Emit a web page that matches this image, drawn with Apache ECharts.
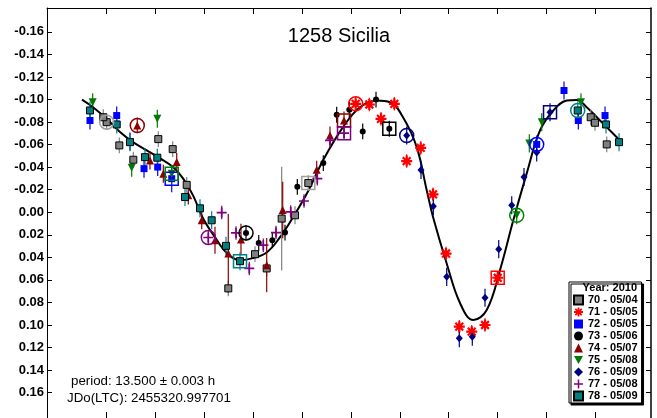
<!DOCTYPE html>
<html>
<head>
<meta charset="utf-8">
<script src="https://cdn.jsdelivr.net/npm/echarts@6/dist/echarts.min.js"></script>
<style>
  html, body { margin: 0; padding: 0; background: #fff; }
  #chart { width: 657px; height: 418px; }
</style>
</head>
<body>
<div id="chart"></div>
<script>
// Lightcurve of (1258) Sicilia, 2010 sessions, phased to P = 13.500 h.
// Each observation: [phase, delta magnitude, error]

const sessionNames = [
  '70 - 05/04', '71 - 05/05', '72 - 05/05', '73 - 05/06', '74 - 05/07',
  '75 - 05/08', '76 - 05/09', '77 - 05/08', '78 - 05/09'
];

const s70 = [
  [0.1000, -0.0799, 0.007], [0.0930, -0.0843, 0.007], [0.1258, -0.0593, 0.007],
  [0.1545, -0.0466, 0.007], [0.2056, -0.0649, 0.007], [0.2351, -0.0560, 0.007],
  [0.2638, -0.0243, 0.007], [0.3489, 0.0675, 0.007], [0.4036, 0.0372, 0.007],
  [0.4275, 0.0498, 0.007], [0.4582, 0.0056, 0.046], [0.4855, 0.0027, 0.008],
  [0.5127, -0.0259, 0.007], [1.0908, -0.0843, 0.007], [1.0996, -0.0794, 0.007],
  [1.1236, -0.0602, 0.007]
];
const s71 = [
  [0.6097, -0.0962, 0.006], [0.6376, -0.0956, 0.006], [0.6615, -0.0829, 0.006],
  [0.6888, -0.0962, 0.006], [0.7141, -0.0454, 0.006], [0.7428, -0.0571, 0.006],
  [0.7680, -0.0159, 0.006], [0.7946, 0.0366, 0.006], [0.8218, 0.1015, 0.006],
  [0.8472, 0.1059, 0.006], [0.8744, 0.1000, 0.006], [0.9004, 0.0581, 0.006]
];
const s72 = [
  [0.0658, -0.0814, 0.008], [0.1205, -0.0858, 0.008], [0.1477, -0.0628, 0.008],
  [0.1764, -0.0387, 0.008], [0.2044, -0.0401, 0.008], [0.2331, -0.0298, 0.012],
  [0.9802, -0.0602, 0.008], [1.0361, -0.1080, 0.008], [1.0654, -0.0814, 0.008],
  [1.1201, -0.0858, 0.008]
];
const s73 = [
  [0.3852, 0.0183, 0.007], [0.4112, 0.0272, 0.007], [0.4390, 0.0248, 0.007],
  [0.4650, 0.0180, 0.007], [0.4902, -0.0226, 0.007], [0.5434, -0.0436, 0.007],
  [0.5708, -0.0865, 0.007], [0.5966, -0.0909, 0.007], [0.6241, -0.0717, 0.007],
  [0.6513, -0.1000, 0.007], [0.6785, -0.0741, 0.007]
];
const s74 = [
  [0.1626, -0.0770, 0.007], [0.1886, -0.0460, 0.008], [0.2159, -0.0342, 0.008],
  [0.2433, -0.0445, 0.008], [0.2670, -0.0150, 0.008], [0.2945, 0.0071, 0.008],
  [0.3217, 0.0248, 0.012], [0.3489, 0.0365, 0.035], [0.3749, 0.0242, 0.014],
  [0.4275, 0.0469, 0.024], [0.4603, -0.0020, 0.025], [0.5299, -0.0378, 0.008],
  [0.5571, -0.0681, 0.008], [0.5858, -0.0814, 0.008]
];
const s75 = [
  [0.0713, -0.0976, 0.008], [0.1512, -0.0396, 0.008], [0.2036, -0.0829, 0.008],
  [0.2331, -0.0342, 0.008], [0.9393, 0.0027, 0.008], [0.9651, -0.0611, 0.008],
  [0.9905, -0.0799, 0.008], [1.0709, -0.0976, 0.008]
];
const s76 = [
  [0.7141, -0.0681, 0.008], [0.7434, -0.0376, 0.008], [0.7686, -0.0053, 0.008],
  [0.7960, 0.0573, 0.008], [0.8218, 0.1118, 0.008], [0.8484, 0.1104, 0.008],
  [0.8744, 0.0758, 0.008], [0.9025, 0.0327, 0.008], [0.9291, -0.0062, 0.008],
  [0.9542, -0.0312, 0.008], [0.9802, -0.0531, 0.008], [1.0075, -0.0888, 0.008]
];
const s77 = [
  [0.3080, 0.0224, 0.006], [0.3354, 0.0003, 0.006], [0.3647, 0.0183, 0.006],
  [0.3919, 0.0498, 0.006], [0.4206, 0.0292, 0.006], [0.4466, 0.0180, 0.006],
  [0.4767, -0.0003, 0.006], [0.5039, -0.0100, 0.006], [0.5311, -0.0298, 0.006],
  [0.5571, -0.0637, 0.006], [0.5858, -0.0702, 0.006]
];
const s78 = [
  [0.0658, -0.0903, 0.008], [0.1205, -0.0779, 0.008], [0.1477, -0.0622, 0.008],
  [0.1784, -0.0489, 0.008], [0.2036, -0.0484, 0.008], [0.2603, -0.0135, 0.008],
  [0.2910, -0.0035, 0.008], [0.3149, 0.0071, 0.008], [0.3442, 0.0298, 0.008],
  [0.3729, 0.0434, 0.008], [1.0642, -0.0903, 0.008], [1.1221, -0.0779, 0.008],
  [1.1488, -0.0622, 0.008]
];
const sessionData = [s70, s71, s72, s73, s74, s75, s76, s77, s78];

// First and last observation of every session, same order as sessionNames
const sessionFirst = [
  [0.1000, -0.0799], [0.6097, -0.0962], [0.9802, -0.0602], [0.3852, 0.0183],
  [0.1626, -0.0770], [0.9393, 0.0027], [0.7141, -0.0681], [0.3080, 0.0224],
  [1.0642, -0.0903]
];
const sessionLast = [
  [0.5127, -0.0259], [0.9004, 0.0581], [0.2331, -0.0298], [0.6785, -0.0741],
  [0.5858, -0.0814], [0.2331, -0.0342], [1.0075, -0.0888], [0.5858, -0.0702],
  [0.3729, 0.0434]
];

// Fourier fit of the lightcurve
const fitPhase = [0.0494, 0.0720, 0.1000, 0.1272, 0.1538, 0.1819, 0.2091, 0.2357,
  0.2562, 0.2767, 0.2971, 0.3258, 0.3463, 0.3729, 0.3995, 0.4281, 0.4548, 0.4814,
  0.5100, 0.5428, 0.5837, 0.6185, 0.6527, 0.6800, 0.7066, 0.7346, 0.7551, 0.7680,
  0.7960, 0.8232, 0.8505, 0.8779, 0.9051, 0.9323, 0.9598, 0.9870, 1.0142, 1.0416,
  1.0621, 1.0826, 1.1098, 1.1370, 1.1508];
const fitMag = [-0.1000, -0.0932, -0.0829, -0.0711, -0.0622, -0.0549, -0.0478, -0.0401,
  -0.0301, -0.0150, 0.0053, 0.0248, 0.0363, 0.0425, 0.0407, 0.0354, 0.0221, 0.0044,
  -0.0168, -0.0460, -0.0755, -0.0932, -0.0991, -0.0976, -0.0843, -0.0578, -0.0195, 0.0042,
  0.0454, 0.0805, 0.0956, 0.0867, 0.0513, 0.0071, -0.0345, -0.0726, -0.0903, -0.0991,
  -0.0997, -0.0932, -0.0814, -0.0696, -0.0637];

const yTicks = [-0.16, -0.14, -0.12, -0.10, -0.08, -0.06, -0.04, -0.02, 0.00,
  0.02, 0.04, 0.06, 0.08, 0.10, 0.12, 0.14, 0.16];
const xTicks = [0.1, 0.2, 0.3, 0.4, 0.5, 0.6, 0.7, 0.8, 0.9, 1.0, 1.1];

const periodText = 'period: 13.500 \u00b1 0.003 h';
const epochText = 'JDo(LTC): 2455320.997701';
const titleText = '1258 Sicilia';
const yearText = 'Year: 2010';

// ---- symbols ----
function barsPath(angles, w) {
  let d = '';
  angles.forEach(a => {
    const c = Math.cos(a), s = Math.sin(a);
    const pts = [[-1, -w], [1, -w], [1, w], [-1, w]].map(([u, v]) => [u * c - v * s, u * s + v * c]);
    d += 'M' + pts.map(p => p[0].toFixed(3) + ',' + p[1].toFixed(3)).join('L') + 'Z';
  });
  return 'path://' + d;
}
const asterisk = barsPath([0, Math.PI / 4, Math.PI / 2, 3 * Math.PI / 4], 0.2);
const plus = barsPath([0, Math.PI / 2], 0.17);
const triDown = 'path://M0,0L10,0L5,9Z';

const looks = [
  { symbol: 'rect', size: 7, color: '#808080', border: '#000', bar: '#808080', ring: '#a0a0a0' },
  { symbol: asterisk, size: 11, color: '#ff0000', border: null, bar: '#ff0000', ring: '#ff0000' },
  { symbol: 'rect', size: 7, color: '#0000ff', border: null, bar: '#0000ff', ring: '#0000ff' },
  { symbol: 'circle', size: 6, color: '#000000', border: null, bar: '#000000', ring: '#000000' },
  { symbol: 'triangle', size: 8, color: '#8b0000', border: null, bar: '#8b0000', ring: '#8b0000' },
  { symbol: triDown, size: 8, color: '#007a00', border: null, bar: '#007a00', ring: '#008000' },
  { symbol: 'diamond', size: [7, 8], color: '#000080', border: null, bar: '#000080', ring: '#000080' },
  { symbol: plus, size: 10, color: '#800080', border: null, bar: '#800080', ring: '#800080' },
  { symbol: 'rect', size: 7, color: '#008080', border: '#000', bar: '#008080', ring: '#008080' }
];

const FONT = 'Arial, "Liberation Sans", sans-serif';
const series = [];

// fitted curve
series.push({
  name: 'fit', type: 'line', smooth: 0.4, symbol: 'none', silent: true, z: 1,
  data: fitPhase.map((p, i) => [p, fitMag[i]]),
  lineStyle: { color: '#000', width: 2 }
});

sessionData.forEach((data, i) => {
  const lk = looks[i];
  series.push({
    name: sessionNames[i] + ' err', type: 'custom', z: 2, silent: true,
    data: data,
    encode: { x: 0, y: 1 },
    renderItem: (params, api) => {
      const x = api.value(0), y = api.value(1), e = api.value(2);
      const a = api.coord([x, y - e]), b = api.coord([x, y + e]);
      return { type: 'line', shape: { x1: a[0], y1: a[1], x2: b[0], y2: b[1] },
        style: { stroke: lk.bar, lineWidth: 1.2 } };
    }
  });
});

sessionData.forEach((data, i) => {
  const lk = looks[i];
  series.push({
    name: sessionNames[i], type: 'scatter', z: 3,
    symbol: lk.symbol, symbolSize: lk.size,
    data: data.map(d => [d[0], d[1]]),
    itemStyle: lk.border
      ? { color: lk.color, borderColor: lk.border, borderWidth: 1, opacity: 1 }
      : { color: lk.color, opacity: 1 }
  });
});

// open markers on the first (circle) and last (square) observation of each session
sessionNames.forEach((nm, i) => {
  const lk = looks[i];
  series.push({
    name: nm + ' first', type: 'scatter', z: 4, symbol: 'circle', symbolSize: 14, silent: true,
    data: [sessionFirst[i]],
    itemStyle: { color: 'rgba(0,0,0,0)', borderColor: lk.ring, borderWidth: 1.5, opacity: 1 }
  });
  series.push({
    name: nm + ' last', type: 'scatter', z: 4, symbol: 'rect', symbolSize: 13, silent: true,
    data: [sessionLast[i]],
    itemStyle: { color: 'rgba(0,0,0,0)', borderColor: lk.ring, borderWidth: 1.5, opacity: 1 }
  });
});

const xRange = { min: -0.0222, max: 1.2142 };
const yRange = { min: -0.1812, max: 0.1825 };
const frameLine = { show: true, onZero: false, lineStyle: { color: '#000', width: 1 } };

const option = {
  animation: false,
  backgroundColor: '#fff',
  grid: { left: 47, top: 8, width: 604, height: 411, containLabel: false },
  xAxis: [
    { type: 'value', position: 'bottom', ...xRange, axisLine: frameLine,
      axisTick: { show: true, inside: true, length: 6, customValues: xTicks, lineStyle: { color: '#000' } },
      axisLabel: { show: false }, splitLine: { show: false } },
    { type: 'value', position: 'top', ...xRange, axisLine: frameLine,
      axisTick: { show: true, inside: true, length: 6, customValues: xTicks, lineStyle: { color: '#000' } },
      axisLabel: { show: false }, splitLine: { show: false } }
  ],
  yAxis: [
    { type: 'value', position: 'left', inverse: true, ...yRange, axisLine: frameLine,
      axisTick: { show: true, inside: true, length: 5, customValues: yTicks, lineStyle: { color: '#000' } },
      axisLabel: { show: true, customValues: yTicks, margin: 3, color: '#000',
        fontFamily: FONT, fontWeight: 'bold', fontSize: 13,
        formatter: v => v.toFixed(2) },
      splitLine: { show: false } },
    { type: 'value', position: 'right', inverse: true, ...yRange,
      axisLine: { show: true, onZero: false, lineStyle: { color: '#000', width: 1.5 } },
      axisTick: { show: true, inside: true, length: 5, customValues: yTicks, lineStyle: { color: '#000' } },
      axisLabel: { show: false }, splitLine: { show: false } }
  ],
  legend: {
    data: sessionNames,
    orient: 'vertical',
    left: 569, top: 282,
    padding: [12, 4, 1, 4],
    itemGap: 0, itemWidth: 9, itemHeight: 9, itemTextGap: 4,
    selectedMode: false,
    backgroundColor: '#fff', borderColor: '#000', borderWidth: 1,
    shadowColor: '#000', shadowBlur: 0, shadowOffsetX: 2, shadowOffsetY: 2,
    textStyle: { color: '#000', fontFamily: FONT, fontWeight: 'bold', fontSize: 11, lineHeight: 12 },
    z: 10
  },
  graphic: [
    { type: 'text', x: 339, y: 36, z: 20,
      style: { text: titleText, fill: '#000', font: '20px ' + FONT, textAlign: 'center', textVerticalAlign: 'middle' } },
    { type: 'text', x: 71, y: 381, z: 20,
      style: { text: periodText, fill: '#000', font: '13.3px ' + FONT, textAlign: 'left', textVerticalAlign: 'middle' } },
    { type: 'text', x: 67, y: 398, z: 20,
      style: { text: epochText, fill: '#000', font: '13.3px ' + FONT, textAlign: 'left', textVerticalAlign: 'middle' } },
    { type: 'text', x: 637, y: 288, z: 20,
      style: { text: yearText, fill: '#000', font: 'bold 11px ' + FONT, textAlign: 'right', textVerticalAlign: 'middle' } }
  ],
  series: series
};

const chart = echarts.init(document.getElementById('chart'), null, { renderer: 'canvas' });
chart.setOption(option);
</script>
</body>
</html>
